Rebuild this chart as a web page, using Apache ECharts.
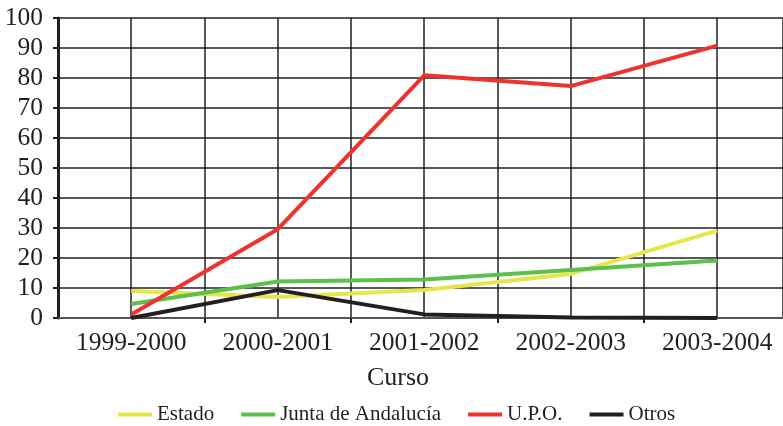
<!DOCTYPE html>
<html>
<head>
<meta charset="utf-8">
<title>Curso</title>
<script src="https://cdn.jsdelivr.net/npm/echarts@6/dist/echarts.min.js"></script>
<style>
  html, body { margin: 0; padding: 0; background: #fff; }
  #main { width: 783px; height: 426px; }
</style>
</head>
<body>
<div id="main"></div>
<script>
// datos
var cursos = ['1999-2000', '2000-2001', '2001-2002', '2002-2003', '2003-2004'];
var estado = [9, 7, 9.3, 14.7, 29.1];
var junta = [4.7, 12.2, 12.8, 16, 19.2];
var upo = [1.2, 29.6, 80.9, 77.3, 90.8];
var otros = [0, 9.3, 1.2, 0.2, 0];
var yTicks = [0, 10, 20, 30, 40, 50, 60, 70, 80, 90, 100];

var ink = '#231f20';
var serif = 'Liberation Serif';

function pares(arr) {
    return arr.map(function (v, i) { return [i, v]; });
}

function serie(name, arr, color) {
    return {
        name: name,
        type: 'line',
        data: pares(arr),
        symbol: 'none',
        lineStyle: { color: color, width: 4 },
        itemStyle: { color: color }
    };
}

var chart = echarts.init(document.getElementById('main'));
var option = {
    animation: false,
    title: {
        text: 'Curso',
        left: 362,
        top: 360,
        textStyle: { fontFamily: serif, fontSize: 26, fontWeight: 'normal', color: ink }
    },
    grid: { left: 58, right: 0, top: 18, bottom: 108, containLabel: false },
    legend: {
        left: 113,
        top: 399,
        icon: 'rect',
        itemWidth: 34,
        itemHeight: 4,
        itemGap: 27,
        textStyle: { fontFamily: serif, fontSize: 21, color: ink },
        data: ['Estado', 'Junta de Andalucía', 'U.P.O.', 'Otros']
    },
    xAxis: [{
        // eje visible: etiquetas en los cursos, marcas entre cursos
        type: 'value',
        min: -0.5,
        max: 4.449,   // la trama sigue mas alla del borde derecho
        interval: 0.5,
        axisLine: { show: true, lineStyle: { color: '#555', width: 2 } },
        axisTick: {
            show: true, length: 5,
            customValues: [0.5, 1.5, 2.5, 3.5],
            lineStyle: { color: ink, width: 2 }
        },
        axisLabel: {
            customValues: [0, 1, 2, 3, 4],
            formatter: function (v) { return cursos[Math.round(v)]; },
            fontFamily: serif, fontSize: 25.5, color: ink, margin: 12
        },
        splitLine: { show: false }
    }, {
        // solo la rejilla vertical
        type: 'value',
        position: 'bottom',
        min: -0.5,
        max: 4.449,
        interval: 0.5,
        axisLine: { show: false },
        axisTick: { show: false },
        axisLabel: { show: false },
        splitLine: { show: true, lineStyle: { color: ink, width: 1.5 } }
    }],
    yAxis: {
        type: 'value',
        min: 0,
        max: 100,
        interval: 10,
        axisLine: { show: true, onZero: false, lineStyle: { color: ink, width: 3 } },
        axisTick: { show: true, length: 5, lineStyle: { color: ink, width: 2 } },
        axisLabel: {
            fontFamily: serif, fontSize: 25.5, color: ink, margin: 15,
            customValues: yTicks
        },
        splitLine: { show: true, lineStyle: { color: ink, width: 1.5 } }
    },
    series: [
        serie('Estado', estado, '#e6e64a'),
        serie('Junta de Andalucía', junta, '#5dbf4c'),
        serie('U.P.O.', upo, '#ee332e'),
        serie('Otros', otros, ink)
    ]
};
chart.setOption(option);
</script>
</body>
</html>
